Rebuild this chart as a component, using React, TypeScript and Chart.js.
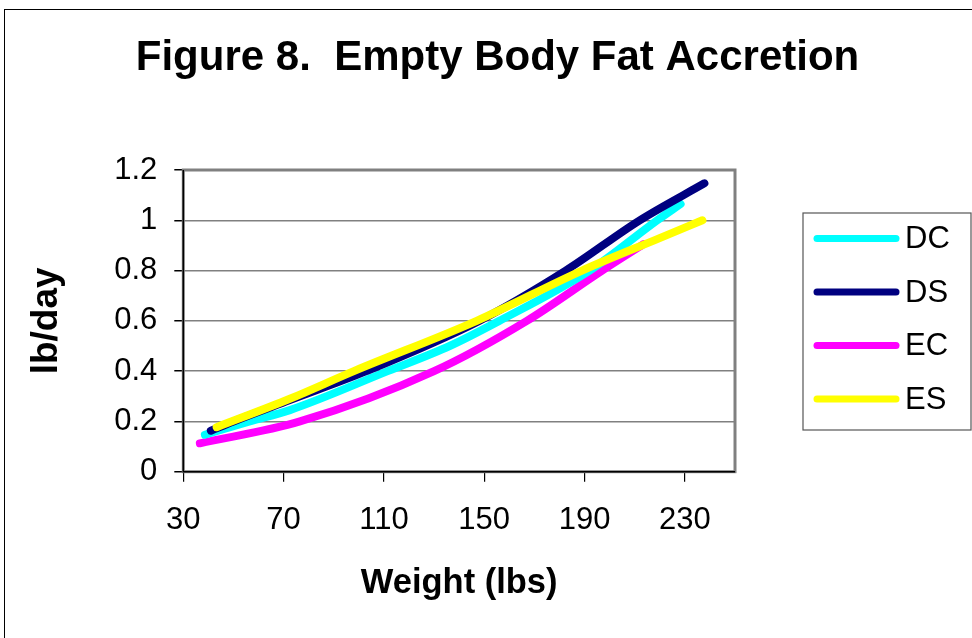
import React, { useEffect, useRef } from "react";
import { Chart, registerables } from "chart.js";

Chart.register(...registerables);

// ---- data ----
const seriesLabels = ["DC", "DS", "EC", "ES"];
const seriesColors = ["#00FFFF", "#000080", "#FF00FF", "#FFFF00"];

const dcWeight = [38.6, 56.5, 72.5, 111.5, 136.2, 156, 192, 219, 228.3];
const dcFat = [0.147, 0.2, 0.245, 0.4, 0.5, 0.6, 0.8, 1.0, 1.065];

const dsWeight = [41, 50, 72.5, 103, 148, 182.5, 212, 237.8];
const dsFat = [0.163, 0.2, 0.285, 0.4, 0.6, 0.8, 1.0, 1.147];

const ecWeight = [36.6, 76.5, 130, 167, 197, 213.5];
const ecFat = [0.113, 0.2, 0.4, 0.6, 0.8, 0.905];

const esWeight = [43.3, 72.5, 98, 147, 189, 219.7, 237];
const esFat = [0.177, 0.29, 0.4, 0.6, 0.8, 0.928, 1.0];

const xTickValues = [30, 70, 110, 150, 190, 230];
const yTickValues = [0, 0.2, 0.4, 0.6, 0.8, 1, 1.2];
const yTickLabels = ["0", "0.2", "0.4", "0.6", "0.8", "1", "1.2"];

const FONT = "'Liberation Sans', Arial, Helvetica, sans-serif";

function toPoints(xs: number[], ys: number[]) {
  return xs.map((x, i) => ({ x, y: ys[i] }));
}

const plotFrame = {
  id: "plotFrame",
  beforeDatasetsDraw(chart: any) {
    const { ctx, chartArea } = chart;
    const { left, top, right, bottom } = chartArea;
    ctx.save();
    ctx.strokeStyle = "#808080";
    ctx.lineWidth = 3;
    ctx.strokeRect(left, top, right - left, bottom - top);
    ctx.strokeStyle = "#000000";
    ctx.lineWidth = 1.5;
    ctx.beginPath();
    ctx.moveTo(left, top);
    ctx.lineTo(left, bottom);
    ctx.lineTo(right, bottom);
    ctx.stroke();
    ctx.restore();
  },
};

const boxLegend = {
  id: "boxLegend",
  afterDraw(chart: any) {
    const { ctx } = chart;
    const bx = 803, by = 213, bw = 168, bh = 217;
    ctx.save();
    ctx.fillStyle = "#ffffff";
    ctx.fillRect(bx, by, bw, bh);
    ctx.strokeStyle = "#555555";
    ctx.lineWidth = 1.2;
    ctx.strokeRect(bx, by, bw, bh);
    const datasets = chart.data.datasets;
    datasets.forEach((ds: any, i: number) => {
      const y = 238.5 + i * 53.5;
      ctx.strokeStyle = ds.borderColor;
      ctx.lineWidth = 7;
      ctx.lineCap = "round";
      ctx.beginPath();
      ctx.moveTo(817, y);
      ctx.lineTo(896, y);
      ctx.stroke();
      ctx.fillStyle = "#000000";
      ctx.font = `31px ${FONT}`;
      ctx.textAlign = "left";
      ctx.textBaseline = "middle";
      ctx.fillText(ds.label, 905, y + 1);
    });
    ctx.restore();
  },
};

export default function App() {
  const canvasRef = useRef<HTMLCanvasElement | null>(null);

  useEffect(() => {
    const canvas = canvasRef.current;
    if (!canvas) return;
    const seriesX = [dcWeight, dsWeight, ecWeight, esWeight];
    const seriesY = [dcFat, dsFat, ecFat, esFat];
    const drawOrder = [2, 1, 3, 0];
    const chart = new Chart(canvas, {
      type: "scatter",
      data: {
        datasets: seriesLabels.map((label, i) => ({
          label,
          data: toPoints(seriesX[i], seriesY[i]),
          showLine: true,
          borderColor: seriesColors[i],
          backgroundColor: seriesColors[i],
          borderWidth: 8,
          borderCapStyle: "round",
          borderJoinStyle: "round",
          pointRadius: 0,
          pointHoverRadius: 0,
          cubicInterpolationMode: "monotone",
          order: drawOrder[i],
        })) as any,
      },
      options: {
        animation: false,
        responsive: false,
        maintainAspectRatio: false,
        events: [],
        layout: { padding: { left: 23, right: 0, top: 0, bottom: 0 } },
        plugins: {
          legend: { display: false },
          tooltip: { enabled: false },
          title: {
            display: true,
            text: "Figure 8.  Empty Body Fat Accretion",
            color: "#000000",
            font: { family: FONT, size: 42, weight: "bold" },
            padding: { top: 33, bottom: 86.6 },
          },
        },
        scales: {
          x: {
            type: "linear",
            min: 30,
            max: 250,
            afterBuildTicks: (s: any) => {
              s.ticks = xTickValues.map((v) => ({ value: v }));
            },
            afterFit: (s: any) => {
              s.height = 166.3;
            },
            ticks: {
              color: "#000000",
              font: { family: FONT, size: 31 },
              padding: 20,
              maxRotation: 0,
              callback: (v: any) => String(v),
            },
            grid: {
              drawOnChartArea: false,
              drawTicks: true,
              tickLength: 10,
              tickColor: "#000000",
              lineWidth: 1.2,
            },
            border: { display: false },
            title: {
              display: true,
              text: "Weight (lbs)",
              color: "#000000",
              font: { family: FONT, size: 34.5, weight: "bold" },
              padding: { top: 0, bottom: 34 },
            },
          },
          y: {
            type: "linear",
            min: 0,
            max: 1.2,
            afterBuildTicks: (s: any) => {
              s.ticks = yTickValues.map((v) => ({ value: v }));
            },
            afterFit: (s: any) => {
              s.width = 160.3;
            },
            ticks: {
              color: "#000000",
              font: { family: FONT, size: 31 },
              padding: 17,
              callback: (v: any) => {
                const idx = yTickValues.findIndex((t) => Math.abs(t - v) < 1e-9);
                return idx >= 0 ? yTickLabels[idx] : "";
              },
            },
            grid: {
              color: "#808080",
              lineWidth: 1.5,
              drawTicks: true,
              tickLength: 9,
              tickColor: "#000000",
            },
            border: { display: false },
            title: {
              display: true,
              text: "lb/day",
              color: "#000000",
              font: { family: FONT, size: 37, weight: "bold" },
              padding: { top: 2, bottom: 0 },
            },
          },
          yRight: {
            type: "linear",
            position: "right",
            display: true,
            afterFit: (s: any) => {
              s.width = 237;
            },
            ticks: { display: false },
            grid: { display: false },
            border: { display: false },
          },
        },
      } as any,
      plugins: [plotFrame, boxLegend],
    });
    return () => chart.destroy();
  }, []);

  return (
    <div
      style={{
        position: "fixed",
        left: 0,
        top: 0,
        width: 972,
        height: 638,
        overflow: "hidden",
        background: "#ffffff",
      }}
    >
      <canvas
        ref={canvasRef}
        width={972}
        height={638}
        style={{ position: "absolute", left: 0, top: 0, width: 972, height: 638, display: "block" }}
      />
      <div
        style={{
          position: "absolute",
          left: 4,
          top: 9,
          width: 1200,
          height: 1000,
          borderLeft: "1px solid #000",
          borderTop: "1px solid #000",
          pointerEvents: "none",
        }}
      />
    </div>
  );
}
